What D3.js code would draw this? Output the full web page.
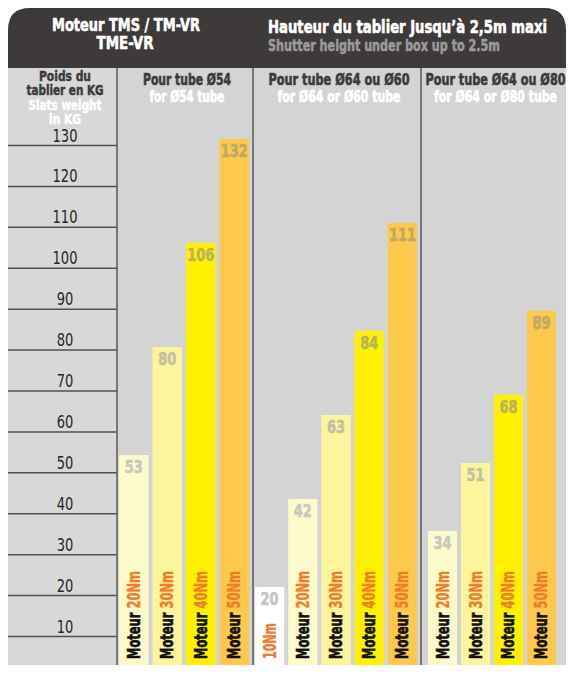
<!DOCTYPE html>
<html><head><meta charset="utf-8">
<script src="https://cdn.jsdelivr.net/npm/d3@7"></script>
<style>
html,body{margin:0;padding:0;background:#fff;}
svg{display:block;}
</style></head>
<body>
<script>
// ---------- data ----------
const torques = ["10Nm","20Nm","30Nm","40Nm","50Nm"];
const groupTitles = ["Pour tube Ø54","Pour tube Ø64 ou Ø60","Pour tube Ø64 ou Ø80"];
const groupSubtitles = ["for Ø54 tube","for Ø64 or Ø60 tube","for Ø64 or Ø80 tube"];
const group1Values = [null,53,80,106,132];
const group2Values = [20,42,63,84,111];
const group3Values = [null,34,51,68,89];
const yTicks = [130,120,110,100,90,80,70,60,50,40,30,20,10];
const barColors = ["#ffffff","#fdfacb","#fdf59e","#fff100","#fdc94c"];
const valueColors = ["#c6c6c6","#c8c8c0","#c3c0a2","#bcb35c","#c0a866"];

// ---------- layout ----------
const W = 576, H = 683;
const F = "'DejaVu Sans Condensed','DejaVu Sans',sans-serif";
const left = 8, right = 566, headTop = 8, headBottom = 68, bottom = 665;
const groupEdges = [117,253,421,566];
const groupRanges = [[119,249],[255,417],[428,556]];
const groupValues = [group1Values, group2Values, group3Values];
const titleWidths = [88,141,140];
const subtitleWidths = [75,123,123];

function fit(sel, w){ return sel.attr("textLength", w).attr("lengthAdjust","spacingAndGlyphs"); }
function heavy(sel, c, sw){ return sel.attr("stroke", c).attr("stroke-width", sw||0.6).attr("stroke-linejoin","round"); }

const svg = d3.select("body").append("svg").attr("width",W).attr("height",H);

// scales
const y = d3.scaleLinear().domain([0,132]).range([667,139]);
const yAxis = d3.scaleLinear().domain([10,130]).range([626,135]);

// gray body
svg.append("rect").attr("x",left).attr("y",headBottom-1).attr("width",right-left).attr("height",bottom-headBottom+1).attr("fill","#d4d4d4");
svg.append("rect").attr("x",left).attr("y",headBottom-1).attr("width",groupEdges[0]-left).attr("height",bottom-headBottom+1).attr("fill","#d8d8d8");

// dark header with rounded top corners
const r = 22;
svg.append("path").attr("fill","#3d3a39")
  .attr("d",`M${left},${headBottom} L${left},${headTop+r} Q${left},${headTop} ${left+r},${headTop} L${right-r},${headTop} Q${right},${headTop} ${right},${headTop+r} L${right},${headBottom} Z`);

heavy(fit(svg.append("text").attr("x",126).attr("y",31).attr("text-anchor","middle")
  .attr("font-family",F).attr("font-weight","bold").attr("font-size",18).attr("fill","#fff")
  .text("Moteur TMS / TM-VR"),148),"#fff");
heavy(fit(svg.append("text").attr("x",125).attr("y",49).attr("text-anchor","middle")
  .attr("font-family",F).attr("font-weight","bold").attr("font-size",18).attr("fill","#fff")
  .text("TME-VR"),57),"#fff");
heavy(fit(svg.append("text").attr("x",268).attr("y",33)
  .attr("font-family",F).attr("font-weight","bold").attr("font-size",18).attr("fill","#fff")
  .text("Hauteur du tablier Jusqu’à 2,5m maxi"),279),"#fff");
heavy(fit(svg.append("text").attr("x",268).attr("y",51)
  .attr("font-family",F).attr("font-weight","bold").attr("font-size",15).attr("fill","#9b9b9b")
  .text("Shutter height under box up to 2.5m"),232),"#9b9b9b",0.5);

// left column header
const leftHead = [["Poids du","#3b3b3b",52],["tablier en KG","#3b3b3b",77],["Slats weight","#ffffff",73],["in KG","#ffffff",32]];
leftHead.forEach((d,i)=>{
  heavy(fit(svg.append("text").attr("x",65).attr("y",81+i*14.3).attr("text-anchor","middle")
    .attr("font-family",F).attr("font-weight","bold").attr("font-size",14.5).attr("fill",d[1]).text(d[0]), d[2]),d[1],0.5);
});

// axis: labels and band lines
const ax = svg.append("g");
ax.selectAll("line").data(yTicks).join("line")
  .attr("x1",left).attr("x2",groupEdges[0])
  .attr("y1",d=>yAxis(d)+10.5).attr("y2",d=>yAxis(d)+10.5)
  .attr("stroke","#505050").attr("stroke-width",1.5);
ax.selectAll("text").data(yTicks).join("text")
  .attr("x",65).attr("y",d=>yAxis(d)+6.5).attr("text-anchor","middle")
  .attr("font-family",F).attr("font-size",18).attr("fill","#262626")
  .attr("textLength",d=>String(d).length*8.3).attr("lengthAdjust","spacingAndGlyphs")
  .text(d=>d);

// groups
groupValues.forEach((vals,gi)=>{
  const data = torques.map((t,i)=>({t, i, v: vals[i]})).filter(d=>d.v!==null);
  const x = d3.scaleBand().domain(data.map(d=>d.t)).range(groupRanges[gi]).paddingInner(0.12).paddingOuter(0);
  const g = svg.append("g");
  g.selectAll("rect").data(data).join("rect")
    .attr("x",d=>x(d.t)).attr("width",x.bandwidth())
    .attr("y",d=>y(d.v)).attr("height",d=>bottom-y(d.v))
    .attr("fill",d=>barColors[d.i]);
  g.selectAll("text.val").data(data).join("text").attr("class","val")
    .attr("x",d=>x(d.t)+x.bandwidth()/2).attr("y",d=>y(d.v)+18)
    .attr("text-anchor","middle").attr("font-family",F).attr("font-weight","bold").attr("font-size",17)
    .attr("textLength",d=>String(d.v).length*9).attr("lengthAdjust","spacingAndGlyphs")
    .attr("fill",d=>valueColors[d.i]).attr("stroke",d=>valueColors[d.i]).attr("stroke-width",0.6)
    .text(d=>d.v);
  const lab = g.selectAll("text.lab").data(data).join("text").attr("class","lab")
    .attr("transform",d=>`translate(${x(d.t)+x.bandwidth()/2+6},${bottom-6}) rotate(-90)`)
    .attr("font-family",F).attr("font-weight","bold").attr("font-size",17)
    .attr("textLength",d=>d.i>0?88:36).attr("lengthAdjust","spacingAndGlyphs");
  lab.filter(d=>d.i>0).append("tspan").attr("fill","#111").attr("stroke","#111").attr("stroke-width",0.6).text("Moteur ");
  lab.append("tspan").attr("fill","#f07d2a").attr("stroke","#f07d2a").attr("stroke-width",0.4).text(d=>d.t);

  const cx = (groupEdges[gi]+groupEdges[gi+1])/2 + 2;
  heavy(fit(svg.append("text").attr("x",cx).attr("y",85).attr("text-anchor","middle")
    .attr("font-family",F).attr("font-weight","bold").attr("font-size",16).attr("fill","#3b3b3b")
    .text(groupTitles[gi]), titleWidths[gi]),"#3b3b3b",0.6);
  heavy(fit(svg.append("text").attr("x",cx).attr("y",102).attr("text-anchor","middle")
    .attr("font-family",F).attr("font-weight","bold").attr("font-size",16).attr("fill","#ffffff")
    .text(groupSubtitles[gi]), subtitleWidths[gi]),"#ffffff",0.6);
});

// separators
svg.selectAll("line.sep").data(groupEdges.slice(0,3)).join("line").attr("class","sep")
  .attr("x1",d=>d).attr("x2",d=>d).attr("y1",headBottom).attr("y2",bottom)
  .attr("stroke","#5a5a5a").attr("stroke-width",1.5);
</script>
</body></html>
